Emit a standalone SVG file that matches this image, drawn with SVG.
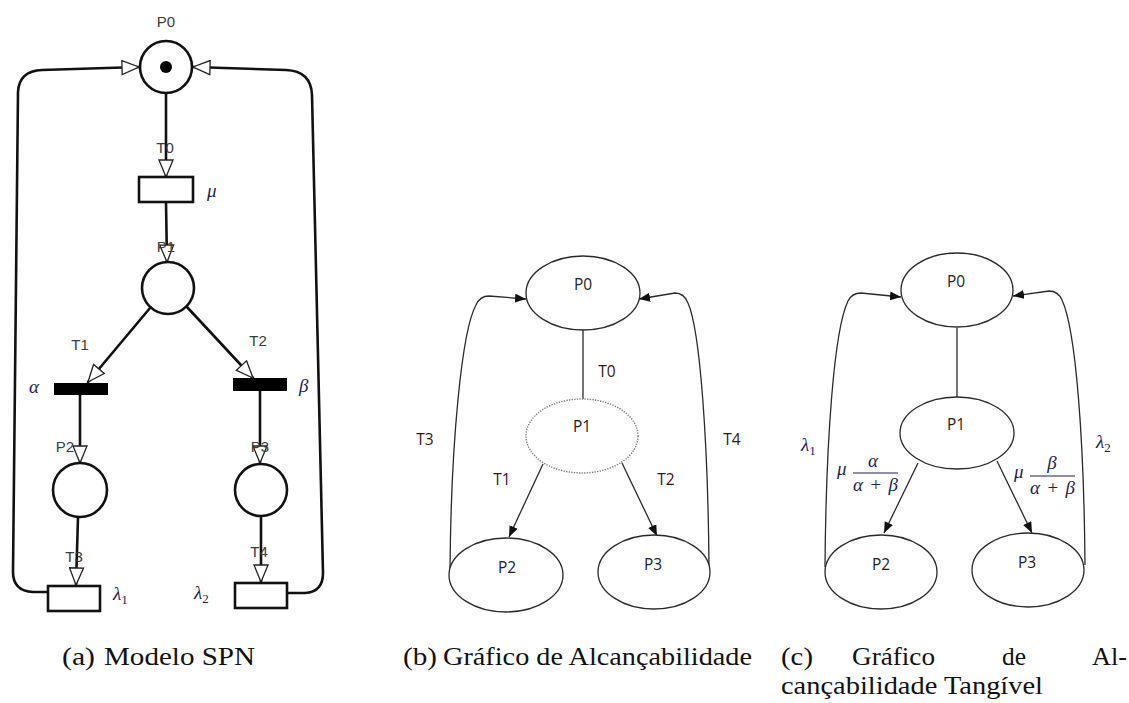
<svg xmlns="http://www.w3.org/2000/svg" width="1129" height="703" viewBox="0 0 1129 703">
<defs>
<style>
.bg{fill:#fff}
.a-line{fill:none;stroke:#111;stroke-width:2.6;stroke-linejoin:round;stroke-linecap:round}
.a-place{fill:#fff;stroke:#111;stroke-width:2.6}
.a-trans{fill:#fff;stroke:#111;stroke-width:2.6}
.a-bar{fill:#000}
.a-lbl{font-family:"Liberation Sans",Arial,sans-serif;font-size:15px;fill:#3a3a3a;text-anchor:middle}
.greek{font-family:"Liberation Serif","DejaVu Serif",serif;font-style:italic;font-size:19px;fill:#1e1e50}
.sub{font-family:"Liberation Serif","DejaVu Serif",serif;font-style:normal;font-size:13px;fill:#1e1e50}
.g-line{fill:none;stroke:#2a2a2a;stroke-width:1.3}
.g-node{fill:#fff;stroke:#2a2a2a;stroke-width:1.3}
.g-dot{fill:#fff;stroke:#777;stroke-width:1.4;stroke-dasharray:1.3 1.3}
.g-lbl{font-family:"Open Sans","Liberation Sans",sans-serif;font-size:15.5px;fill:#222;text-anchor:middle}
.g-tlbl{font-family:"Open Sans","Liberation Sans",sans-serif;font-size:15.5px;fill:#3a1414;text-anchor:middle}
.math{font-family:"Liberation Serif","DejaVu Serif",serif;font-style:italic;font-size:19px;fill:#1e1e50}
.mathr{font-family:"Liberation Serif","DejaVu Serif",serif;font-style:normal;font-size:19px;fill:#1e1e50}
.cap{font-family:"Liberation Serif","Times New Roman",serif;font-size:26px;fill:#111}
</style>
<marker id="openArrow" markerUnits="userSpaceOnUse" markerWidth="20" markerHeight="16" viewBox="-1 -1 20 16" refX="17" refY="7" orient="auto">
<path d="M0,0 L17,7 L0,14 Z" fill="#fff" stroke="#222" stroke-width="1.3" stroke-linejoin="miter"/>
</marker>
<marker id="fillArrow" markerUnits="userSpaceOnUse" markerWidth="12" markerHeight="10" viewBox="0 0 12 10" refX="11" refY="4.5" orient="auto">
<path d="M0,0 L11,4.5 L0,9 Z" fill="#111"/>
</marker>
</defs>
<rect class="bg" x="0" y="0" width="1129" height="703"/>

<!-- ===== Panel (a): SPN model ===== -->
<g id="a-connectors">
<path class="a-line" d="M48,592 L33,592 Q13,591 13,572 L18,92 Q19,71 42,70 L139,67" marker-end="url(#openArrow)"/>
<path class="a-line" d="M287,593 L305,593 Q323,592 323,573 L312,95 Q311,71 286,70 L193,67" marker-end="url(#openArrow)"/>
<path class="a-line" d="M166,93 L166,177" marker-end="url(#openArrow)"/>
<path class="a-line" d="M166,202 L167,262" marker-end="url(#openArrow)"/>
<path class="a-line" d="M150,308 L88,382" marker-end="url(#openArrow)"/>
<path class="a-line" d="M187,307 L253,378" marker-end="url(#openArrow)"/>
<path class="a-line" d="M80,395 L80,463" marker-end="url(#openArrow)"/>
<path class="a-line" d="M260,391 L260,463" marker-end="url(#openArrow)"/>
<path class="a-line" d="M78,517 L76,585" marker-end="url(#openArrow)"/>
<path class="a-line" d="M261,516 L261,582" marker-end="url(#openArrow)"/>
</g>
<g id="a-P0">
<circle class="a-place" cx="166" cy="67" r="26"/>
<circle cx="166" cy="67" r="6" fill="#000"/>
<text class="a-lbl" x="166" y="27">P0</text>
</g>
<g id="a-T0">
<rect class="a-trans" x="139" y="177" width="54" height="25"/>
<text class="a-lbl" x="165" y="153">T0</text>
<text class="greek" x="207" y="197">μ</text>
</g>
<g id="a-P1">
<circle class="a-place" cx="168" cy="288" r="26"/>
<text class="a-lbl" x="166" y="252">P1</text>
</g>
<g id="a-T1">
<rect class="a-bar" x="54" y="383" width="54" height="12"/>
<text class="a-lbl" x="80" y="350">T1</text>
<text class="greek" x="29" y="393">α</text>
</g>
<g id="a-T2">
<rect class="a-bar" x="233" y="378" width="54" height="13"/>
<text class="a-lbl" x="258" y="346">T2</text>
<text class="greek" x="299" y="392">β</text>
</g>
<g id="a-P2">
<circle class="a-place" cx="80" cy="490" r="27"/>
<text class="a-lbl" x="65" y="452">P2</text>
</g>
<g id="a-P3">
<circle class="a-place" cx="261" cy="490" r="26"/>
<text class="a-lbl" x="260" y="452">P3</text>
</g>
<g id="a-T3">
<rect class="a-trans" x="48" y="586" width="52" height="25"/>
<text class="a-lbl" x="74" y="562">T3</text>
<text class="greek" x="113" y="600">λ<tspan class="sub" dy="4">1</tspan></text>
</g>
<g id="a-T4">
<rect class="a-trans" x="235" y="583" width="52" height="25"/>
<text class="a-lbl" x="259" y="557">T4</text>
<text class="greek" x="194" y="599">λ<tspan class="sub" dy="4">2</tspan></text>
</g>

<!-- ===== Panel (b): reachability graph ===== -->
<g id="b-connectors">
<path class="g-line" d="M583,330 L583,399"/>
<path class="g-line" d="M543,464 L509,537" marker-end="url(#fillArrow)"/>
<path class="g-line" d="M622,463 L657,536" marker-end="url(#fillArrow)"/>
<path class="g-line" d="M450,570 C451,440 462,330 476,305 Q480,296 489,296 L526,299" marker-end="url(#fillArrow)"/>
<path class="g-line" d="M709,567 C708,440 700,330 688,303 Q684,293 675,293 L639,299" marker-end="url(#fillArrow)"/>
<text class="g-tlbl" x="607" y="377">T0</text>
<text class="g-tlbl" x="502" y="485">T1</text>
<text class="g-tlbl" x="666" y="485">T2</text>
<text class="g-tlbl" x="425" y="445">T3</text>
<text class="g-tlbl" x="732" y="445">T4</text>
</g>
<g id="b-P0">
<ellipse class="g-node" cx="583" cy="293" rx="57" ry="37"/>
<text class="g-lbl" x="583" y="290">P0</text>
</g>
<g id="b-P1">
<ellipse class="g-dot" cx="582" cy="436" rx="56" ry="37"/>
<text class="g-lbl" x="582" y="432">P1</text>
</g>
<g id="b-P2">
<ellipse class="g-node" cx="506" cy="575" rx="57" ry="37"/>
<text class="g-lbl" x="507" y="573">P2</text>
</g>
<g id="b-P3">
<ellipse class="g-node" cx="654" cy="572" rx="56" ry="37"/>
<text class="g-lbl" x="653" y="570">P3</text>
</g>

<!-- ===== Panel (c): tangible reachability graph ===== -->
<g id="c-connectors">
<path class="g-line" d="M957,328 L957,397"/>
<path class="g-line" d="M918,463 L884,533" marker-end="url(#fillArrow)"/>
<path class="g-line" d="M997,461 L1032,533" marker-end="url(#fillArrow)"/>
<path class="g-line" d="M825,567 C826,440 834,330 848,301 Q852,293 861,293 L901,297" marker-end="url(#fillArrow)"/>
<path class="g-line" d="M1085,565 C1084,440 1076,330 1062,300 Q1058,291 1049,291 L1013,296" marker-end="url(#fillArrow)"/>
<text class="math" x="801" y="451">λ<tspan class="sub" dy="4">1</tspan></text>
<text class="math" x="1096" y="448">λ<tspan class="sub" dy="4">2</tspan></text>
<g id="c-rate1">
<text class="math" x="837" y="475">μ</text>
<text class="math" x="873" y="467" text-anchor="middle">α</text>
<line x1="853" y1="473" x2="898" y2="473" stroke="#1e1e50" stroke-width="1"/>
<text class="math" x="853" y="491" textLength="45" lengthAdjust="spacing">α<tspan class="mathr"> + </tspan>β</text>
</g>
<g id="c-rate2">
<text class="math" x="1014" y="478">μ</text>
<text class="math" x="1052" y="469" text-anchor="middle">β</text>
<line x1="1030" y1="476" x2="1075" y2="476" stroke="#1e1e50" stroke-width="1"/>
<text class="math" x="1030" y="494" textLength="45" lengthAdjust="spacing">α<tspan class="mathr"> + </tspan>β</text>
</g>
</g>
<g id="c-P0">
<ellipse class="g-node" cx="957" cy="290" rx="56" ry="37"/>
<text class="g-lbl" x="956" y="287">P0</text>
</g>
<g id="c-P1">
<ellipse class="g-node" cx="957" cy="433" rx="57" ry="36"/>
<text class="g-lbl" x="956" y="430">P1</text>
</g>
<g id="c-P2">
<ellipse class="g-node" cx="881" cy="572" rx="56" ry="37"/>
<text class="g-lbl" x="881" y="570">P2</text>
</g>
<g id="c-P3">
<ellipse class="g-node" cx="1028" cy="570" rx="56" ry="37"/>
<text class="g-lbl" x="1027" y="568">P3</text>
</g>

<!-- ===== Captions ===== -->
<g id="captions">
<text class="cap" x="62" y="665" textLength="33" lengthAdjust="spacingAndGlyphs">(a)</text>
<text class="cap" x="104" y="665" textLength="151" lengthAdjust="spacingAndGlyphs">Modelo SPN</text>
<text class="cap" x="403" y="665" textLength="34" lengthAdjust="spacingAndGlyphs">(b)</text>
<text class="cap" x="443" y="665" textLength="309" lengthAdjust="spacingAndGlyphs">Gráfico de Alcançabilidade</text>
<text class="cap" x="781" y="665" textLength="32" lengthAdjust="spacingAndGlyphs">(c)</text>
<text class="cap" x="852" y="665" textLength="83" lengthAdjust="spacingAndGlyphs">Gráfico</text>
<text class="cap" x="1002" y="665" textLength="24" lengthAdjust="spacingAndGlyphs">de</text>
<text class="cap" x="1092" y="665" textLength="35" lengthAdjust="spacingAndGlyphs">Al-</text>
<text class="cap" x="781" y="694" textLength="262" lengthAdjust="spacingAndGlyphs">cançabilidade Tangível</text>
</g>
</svg>
